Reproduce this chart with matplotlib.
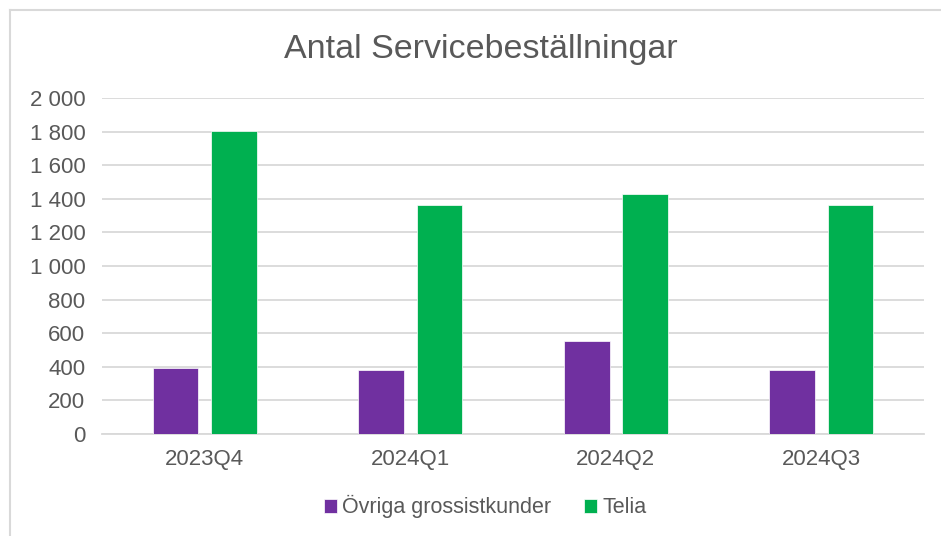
import numpy as np
import matplotlib.pyplot as plt
from matplotlib.lines import Line2D
from matplotlib.ticker import FuncFormatter, MultipleLocator

plt.rcParams['font.family'] = ['Liberation Sans', 'DejaVu Sans']

kvartal = ['2023Q4', '2024Q1', '2024Q2', '2024Q3']
ovriga = [393, 383, 552, 381]
telia = [1805, 1361, 1427, 1361]

lila = '#7030A0'
gron = '#00B050'
textfarg = '#595959'

fig = plt.figure(figsize=(9.41, 5.36), dpi=100)
ax = fig.add_axes([0.1084, 0.1903, 0.8736, 0.6269])

x = np.arange(len(kvartal))
bredd = 0.223
ax.bar(x - 0.142, ovriga, bredd, color=lila, label='Övriga grossistkunder',
       edgecolor='white', linewidth=0.5, zorder=3)
ax.bar(x + 0.142, telia, bredd, color=gron, label='Telia',
       edgecolor='white', linewidth=0.5, zorder=3)

ax.set_xlim(-0.5, len(kvartal) - 0.5)
ax.set_ylim(0, 2000)
ax.yaxis.set_major_locator(MultipleLocator(200))
ax.yaxis.set_major_formatter(FuncFormatter(lambda v, p: f'{int(v):,}'.replace(',', ' ')))
ax.set_xticks(x)
ax.set_xticklabels(kvartal)
ax.grid(axis='y', color='#D9D9D9', linewidth=1.3, zorder=0)
for s in ['top', 'right', 'left']:
    ax.spines[s].set_visible(False)
ax.spines['bottom'].set_color('#D9D9D9')
ax.spines['bottom'].set_linewidth(1.3)
ax.tick_params(axis='both', length=0, labelsize=16, labelcolor=textfarg)
ax.tick_params(axis='x', pad=11)
ax.tick_params(axis='y', pad=12)

fig.text(0.511, 0.908, 'Antal Servicebeställningar', ha='center', va='center',
         fontsize=24.5, color=textfarg)

ax.legend(loc='center', bbox_to_anchor=(0.466, -0.217), ncol=2, frameon=False,
          fontsize=15.5, labelcolor=textfarg, handlelength=0.6, handleheight=0.6,
          handletextpad=0.25, columnspacing=1.5)

# ram upptill och till vänster
fig.add_artist(Line2D([9.5 / 941, 1], [1 - 9.5 / 536] * 2, transform=fig.transFigure,
                      color='#D9D9D9', linewidth=1.5))
fig.add_artist(Line2D([9.5 / 941] * 2, [0, 1 - 9.5 / 536], transform=fig.transFigure,
                      color='#D9D9D9', linewidth=1.5))

fig.savefig('out.png', dpi=100)
